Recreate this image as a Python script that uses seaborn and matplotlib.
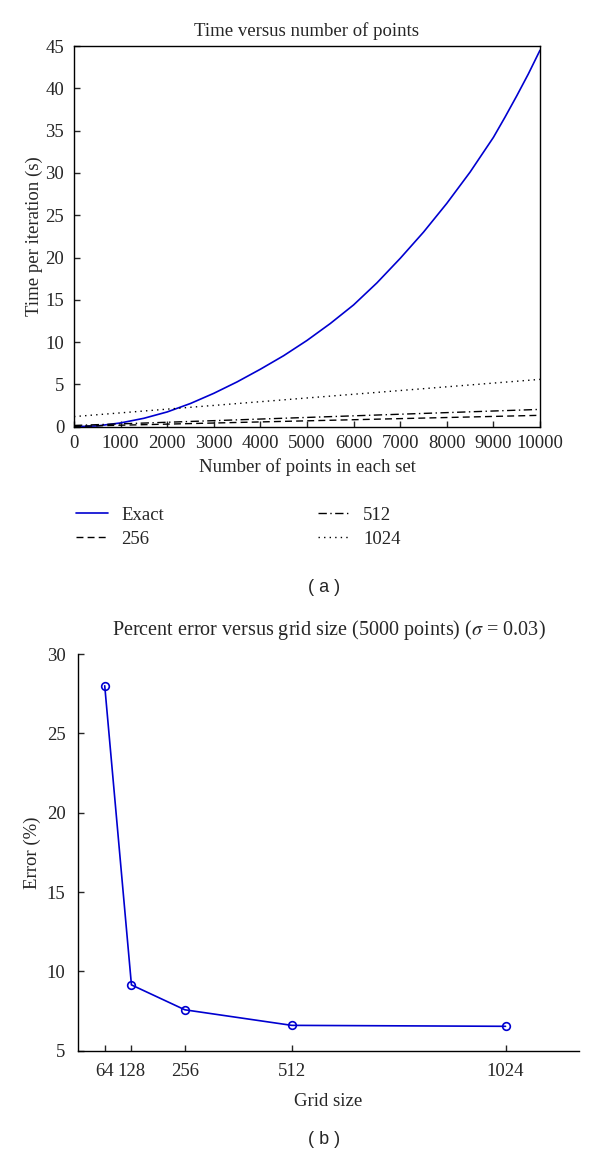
import numpy as np
import pandas as pd
import matplotlib
matplotlib.use("Agg")
import matplotlib.pyplot as plt
import seaborn as sns

# (a) time per iteration vs number of points
n_points = [0, 500, 1000, 1500, 2000, 2500, 3000, 3500, 4000, 4500, 5000,
            5500, 6000, 6500, 7000, 7500, 8000, 8500, 9000, 9250, 9500, 9750, 10000]
time_exact = [0.0, 0.1, 0.45, 1.0, 1.75, 2.75, 3.95, 5.3, 6.8, 8.4, 10.2,
              12.2, 14.4, 17.0, 19.9, 23.0, 26.4, 30.1, 34.2, 36.6, 39.1, 41.7, 44.5]
n_grid_pts = [0, 1000, 2000, 3000, 4000, 5000, 6000, 7000, 8000, 9000, 10000]
time_256 = [0.05, 0.18, 0.31, 0.44, 0.57, 0.7, 0.83, 0.96, 1.09, 1.22, 1.35]
time_512 = [0.15, 0.34, 0.53, 0.72, 0.91, 1.1, 1.29, 1.48, 1.67, 1.86, 2.05]
time_1024 = [1.2, 1.64, 2.08, 2.52, 2.96, 3.4, 3.84, 4.28, 4.72, 5.16, 5.6]

# (b) percent error vs grid size
grid_sizes = [64, 128, 256, 512, 1024]
error_pct = [28.0, 9.15, 7.58, 6.6, 6.54]

sns.set_style("ticks")
plt.rcParams["font.family"] = ["Liberation Serif", "DejaVu Serif"]
plt.rcParams["mathtext.fontset"] = "stix"
plt.rcParams["xtick.direction"] = "in"
plt.rcParams["ytick.direction"] = "in"
plt.rcParams["axes.linewidth"] = 1.0
plt.rcParams["axes.edgecolor"] = "black"

FS = 13.5
BLUE = "#0000d0"

fig = plt.figure(figsize=(6, 11.59), dpi=100)

# ---- top panel ----
ax1 = fig.add_axes([0.1233, 0.6318, 0.7767, 0.3285])
sns.lineplot(x=n_points, y=time_exact, ax=ax1, color=BLUE, lw=1.2, label="Exact")
sns.lineplot(x=n_grid_pts, y=time_256, ax=ax1, color="black", lw=1.0,
             linestyle=(0, (5, 3)), label="256")
sns.lineplot(x=n_grid_pts, y=time_512, ax=ax1, color="black", lw=1.0,
             linestyle=(0, (6, 2.5, 1, 2.5)), label="512")
sns.lineplot(x=n_grid_pts, y=time_1024, ax=ax1, color="black", lw=1.0,
             linestyle=(0, (1, 3)), label="1024")
ax1.set_xlim(0, 10000)
ax1.set_ylim(0, 45)
ax1.set_xticks(range(0, 10001, 1000))
ax1.set_yticks(range(0, 46, 5))
ax1.tick_params(labelsize=FS, length=4, width=1, top=False, right=False)
ax1.tick_params(axis="x", pad=6)
ax1.tick_params(axis="y", pad=7)
ax1.set_title("Time versus number of points", fontsize=FS, pad=7)
ax1.set_xlabel("Number of points in each set", fontsize=FS, labelpad=4)
ax1.set_ylabel("Time per iteration (s)", fontsize=FS, labelpad=2)
handles, labels = ax1.get_legend_handles_labels()
ax1.legend(handles, labels, ncol=2, frameon=False, fontsize=FS,
           loc="upper left", bbox_to_anchor=(-0.031, -0.166),
           handlelength=1.7, handletextpad=0.7, columnspacing=8.2,
           labelspacing=0.37)

fig.text(0.54, 1 - 587 / 1159, "( a )", fontsize=13, ha="center", va="center",
         family=["Liberation Sans", "DejaVu Sans"])

# ---- bottom panel ----
ax2 = fig.add_axes([0.13, 0.0934, 0.835, 0.3423])
sns.lineplot(x=grid_sizes, y=error_pct, ax=ax2, color=BLUE, lw=1.2,
             marker="o", markersize=5.5, markerfacecolor="none",
             markeredgecolor=BLUE, markeredgewidth=1.2)
ax2.set_xlim(0, 1200)
ax2.set_ylim(5, 30)
ax2.set_xticks(grid_sizes)
ax2.set_yticks(range(5, 31, 5))
sns.despine(ax=ax2)
ax2.tick_params(labelsize=FS, length=4, width=1)
ax2.tick_params(axis="x", pad=9)
ax2.tick_params(axis="y", pad=9)
ax2.set_title(r"Percent error versus grid size (5000 points) ($\sigma$ = 0.03)",
              fontsize=14.5, pad=14)
ax2.set_xlabel("Grid size", fontsize=FS, labelpad=9)
ax2.set_ylabel("Error (%)", fontsize=FS, labelpad=4)

fig.text(0.54, 1 - 1140 / 1159, "( b )", fontsize=13, ha="center", va="center",
         family=["Liberation Sans", "DejaVu Sans"])

fig.savefig("out.png", dpi=100)
